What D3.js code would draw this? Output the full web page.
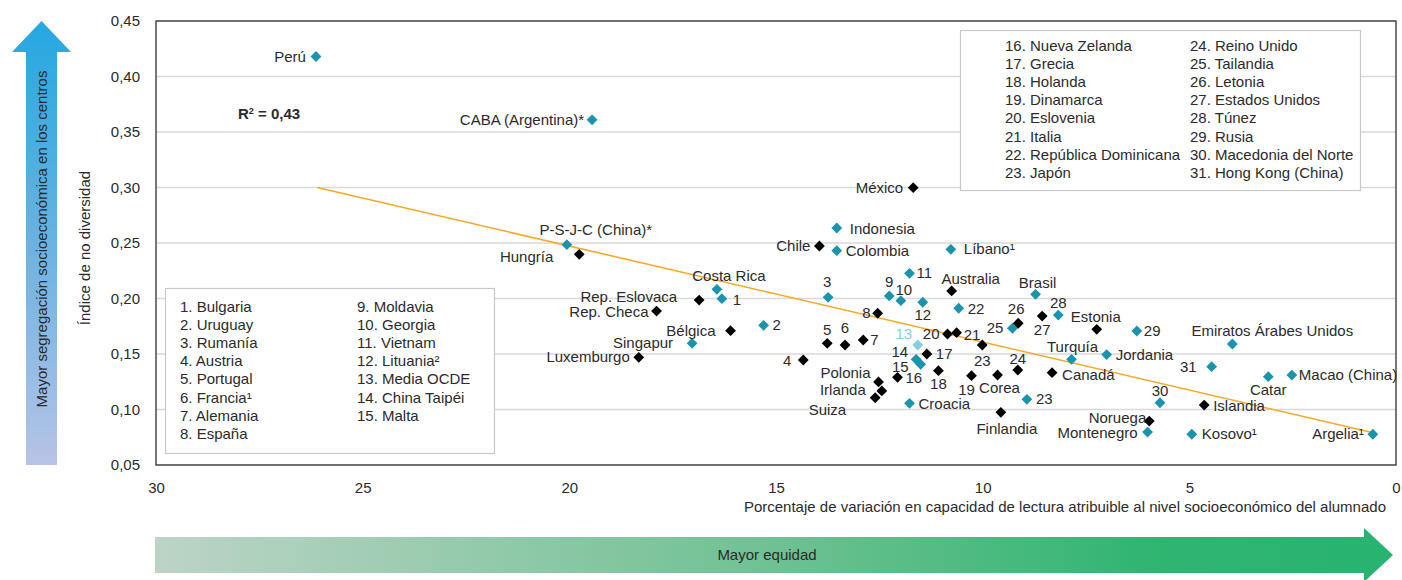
<!DOCTYPE html>
<html><head><meta charset="utf-8">
<script src="https://cdn.jsdelivr.net/npm/d3@7"></script>
<style>
html,body{margin:0;padding:0;background:#fff;}
svg{display:block;font-family:"Liberation Sans",Arial,Helvetica,sans-serif;}
</style></head>
<body>
<svg id="chart" width="1402" height="580"></svg>
<script>
// ---------- DATA ----------
const names = ["Perú","CABA (Argentina)*","México","Indonesia","Chile","Colombia","Líbano¹","P-S-J-C (China)*","Hungría",
"Costa Rica","Rep. Eslovaca","1","Rep. Checa","Bélgica","2","Singapur","Luxemburgo","3","4","5","6","7","8","9","10","11","12",
"Australia","22","13","20","21","17","14","15","16","18","Polonia","Irlanda","Suiza","Croacia","23","19","Corea","24","Canadá",
"23","Finlandia","25","26","27","28","Estonia","29","Brasil","Turquía","Jordania","31","Emiratos Árabes Unidos","Catar",
"Macao (China)","30","Islandia","Noruega","Montenegro","Kosovo¹","Argelia¹"];
const xValues = [26.13,19.45,11.68,13.53,13.95,13.53,10.77,20.06,19.76,
16.43,16.86,16.31,17.89,16.10,15.30,17.03,18.32,13.74,14.34,13.76,13.33,12.89,12.54,12.26,11.98,11.77,11.45,
10.75,10.58,11.57,10.85,10.63,11.35,11.61,11.50,12.06,11.07,12.52,12.44,12.60,11.77,10.01,10.27,9.64,9.15,8.32,
8.93,9.56,9.28,9.14,8.56,8.17,7.24,6.27,8.72,7.85,7.00,4.46,3.96,3.09,
2.52,5.71,4.64,5.97,6.01,4.94,0.56];
const yValues = [0.418,0.361,0.2998,0.2635,0.2473,0.2431,0.2443,0.2485,0.2398,
0.2083,0.1986,0.1998,0.1887,0.171,0.1758,0.1596,0.147,0.2011,0.1446,0.1596,0.1581,0.1626,0.1867,0.2023,0.198,0.2227,0.1966,
0.2068,0.1912,0.1581,0.168,0.1692,0.150,0.1452,0.1407,0.129,0.135,0.1248,0.1167,0.1106,0.1056,0.1581,0.1305,0.1311,0.1356,0.1332,
0.1092,0.0975,0.1732,0.1777,0.1842,0.1851,0.1722,0.1707,0.2038,0.1452,0.1495,0.1386,0.159,0.1296,
0.131,0.1061,0.104,0.0896,0.0797,0.0777,0.0777];
// p = país asociado, o = OCDE, m = media OCDE
const groups = ["p","p","o","p","o","p","p","p","o",
"p","o","p","o","o","p","p","o","p","o","o","o","o","o","p","p","p","p",
"o","p","m","o","o","o","p","p","o","o","o","o","o","p","o","o","o","o","o",
"p","o","p","o","o","p","o","p","p","p","p","p","p","p",
"p","p","o","o","p","p","p"];

const trendX = [26.1, 0.6];
const trendY = [0.300, 0.0795];
const rSquared = "0,43";

const xTicks = [30,25,20,15,10,5,0];
const yTicks = [0.05,0.10,0.15,0.20,0.25,0.30,0.35,0.40,0.45];

const legendLeftA = ["1. Bulgaria","2. Uruguay","3. Rumanía","4. Austria","5. Portugal","6. Francia¹","7. Alemania","8. España"];
const legendLeftB = ["9. Moldavia","10. Georgia","11. Vietnam","12. Lituania²","13. Media OCDE","14. China Taipéi","15. Malta"];
const legendRightA = ["16. Nueva Zelanda","17. Grecia","18. Holanda","19. Dinamarca","20. Eslovenia","21. Italia","22. República Dominicana","23. Japón"];
const legendRightB = ["24. Reino Unido","25. Tailandia","26. Letonia","27. Estados Unidos","28. Túnez","29. Rusia","30. Macedonia del Norte","31. Hong Kong (China)"];

const xTitle = "Porcentaje de variación en capacidad de lectura atribuible al nivel socioeconómico del alumnado";
const yTitle = "Índice de no diversidad";
const upArrowText = "Mayor segregación socioeconómica en los centros";
const rightArrowText = "Mayor equidad";

// ---------- LAYOUT (label placement: anchor, dx, dy in px) ----------
const labelPlacement = [
["end",-10,5],["end",-8,5],["end",-10,5],["start",13,6],["end",-9,5],["start",9,5],["start",13,5],["middle",29,-10],["end",-26,8],
["middle",12,-8],["end",-22,2],["start",11,6],["end",-8,6],["end",-15,5],["start",9,5],["end",-19,5],["end",-9,5],["middle",-1,-10],["end",-12,6],["middle",0,-8],["middle",0,-12],["start",7,5],["end",-7,5],["middle",0,-9],["middle",3,-6],["start",7,5],["middle",0,18],
["middle",19,-7],["start",9,6],["middle",-14,-6],["end",-8,5],["start",7,7],["start",9,5],["end",-8,-2],["end",-12,8],["start",8,6],["middle",0,18],["end",-8,-4],["end",-16,4],["end",-29,17],["start",9,6],["middle",0,21],["middle",-5,19],["middle",2,18],["middle",0,-6],["start",10,7],
["start",9,5],["middle",6,22],["end",-9,5],["middle",-2,-9],["middle",0,19],["middle",0,-7],["middle",-1,-7],["start",7,5],["middle",2,-6],["middle",1,-7],["start",9,5],["end",-15,5],["middle",40,-8],["middle",0,18],
["start",7,5],["middle",0,-7],["start",9,6],["end",-3,2],["end",-10,6],["start",10,5],["end",-9,5]
];

const colors = {o:"#000000", p:"#1a93ad", m:"#84d0db"};
const textColor = "#2b2b2b";
const FONT = 15;

// ---------- DRAW ----------
const svg = d3.select("#chart");
const defs = svg.append("defs");

const x = d3.scaleLinear().domain([30,0]).range([156,1396]);
const y = d3.scaleLinear().domain([0.05,0.45]).range([465,21]);

// gradients
const gUp = defs.append("linearGradient").attr("id","gUp").attr("x1",0).attr("y1",0).attr("x2",0).attr("y2",1);
gUp.append("stop").attr("offset","0%").attr("stop-color","#24a8e0");
gUp.append("stop").attr("offset","45%").attr("stop-color","#62b1e2");
gUp.append("stop").attr("offset","100%").attr("stop-color","#b7c3e6");
const gR = defs.append("linearGradient").attr("id","gR").attr("x1",0).attr("y1",0).attr("x2",1).attr("y2",0);
gR.append("stop").attr("offset","0%").attr("stop-color","#bcd4c6");
gR.append("stop").attr("offset","50%").attr("stop-color","#6fc193");
gR.append("stop").attr("offset","80%").attr("stop-color","#31b571");
gR.append("stop").attr("offset","100%").attr("stop-color","#27b370");

// Up arrow
svg.append("path")
  .attr("d","M26,465 L26,52 L12,52 L41.5,21 L71,52 L57,52 L57,465 Z")
  .attr("fill","url(#gUp)");
svg.append("text")
  .attr("transform","translate(47,239) rotate(-90)")
  .attr("text-anchor","middle").attr("font-size",FONT).attr("fill",textColor)
  .text(upArrowText);

// Right arrow
svg.append("path")
  .attr("d","M155,537 L1364,537 L1364,528 L1393,555 L1364,582 L1364,573 L155,573 Z")
  .attr("fill","url(#gR)");
svg.append("text")
  .attr("x",767).attr("y",560).attr("text-anchor","middle")
  .attr("font-size",FONT).attr("fill",textColor).text(rightArrowText);

// gridlines
svg.append("g").selectAll("line").data(yTicks).join("line")
  .attr("x1",x(30)).attr("x2",x(0)).attr("y1",d=>y(d)).attr("y2",d=>y(d))
  .attr("stroke","#d9d9d9").attr("stroke-width",1.5);

// axes
const fmt = d => d3.format(".2f")(d).replace(".",",");
const yAxis = svg.append("g").attr("transform",`translate(${x(30)},0)`)
  .call(d3.axisLeft(y).tickValues(yTicks).tickSize(0).tickPadding(16).tickFormat(fmt));
const xAxis = svg.append("g").attr("transform",`translate(0,${y(0.05)})`)
  .call(d3.axisBottom(x).tickValues(xTicks).tickSize(0).tickPadding(17).tickFormat(d3.format("d")));
[yAxis,xAxis].forEach(a=>{
  a.select(".domain").remove();
  a.selectAll("text").attr("font-size",FONT).attr("fill",textColor)
   .attr("font-family","'Liberation Sans',Arial,sans-serif");
});

// plot frame
svg.append("rect").attr("x",x(30)).attr("y",y(0.45))
  .attr("width",x(0)-x(30)).attr("height",y(0.05)-y(0.45))
  .attr("fill","none").attr("stroke","#4a4a4a").attr("stroke-width",1.5);

// titles
svg.append("text").attr("x",1386).attr("y",512).attr("text-anchor","end")
  .attr("font-size",FONT).attr("fill",textColor).text(xTitle);
svg.append("text").attr("transform","translate(90,248) rotate(-90)")
  .attr("text-anchor","middle").attr("font-size",FONT).attr("fill",textColor).text(yTitle);

// trend line
svg.append("line")
  .attr("x1",x(trendX[0])).attr("y1",y(trendY[0]))
  .attr("x2",x(trendX[1])).attr("y2",y(trendY[1]))
  .attr("stroke","#f7a928").attr("stroke-width",1.6);

// R2
const r2 = svg.append("text").attr("x",238).attr("y",119).attr("font-size",FONT)
  .attr("font-weight","bold").attr("fill",textColor);
r2.append("tspan").text("R");
r2.append("tspan").attr("font-size",9).attr("dy",-5).text("2");
r2.append("tspan").attr("dy",5).text(" = " + rSquared);

// legends
function legendBox(x0,y0,w,h,colA,colB,xa,xb,firstY){
  svg.append("rect").attr("x",x0).attr("y",y0).attr("width",w).attr("height",h)
    .attr("fill","#fff").attr("stroke","#c8c8c8").attr("stroke-width",1.2);
  const g = svg.append("g").attr("font-size",FONT).attr("fill",textColor);
  g.selectAll("text.a").data(colA).join("text").attr("class","a")
    .attr("x",xa).attr("y",(d,i)=>firstY+i*18.1).text(d=>d);
  g.selectAll("text.b").data(colB).join("text").attr("class","b")
    .attr("x",xb).attr("y",(d,i)=>firstY+i*18.1).text(d=>d);
}
legendBox(165.5,288.5,329,165,legendLeftA,legendLeftB,180,357,312);
legendBox(960.5,30.5,400,160,legendRightA,legendRightB,1005,1190,51);

// points
const pts = names.map((n,i)=>({name:n,x:xValues[i],y:yValues[i],g:groups[i],pl:labelPlacement[i]}));
const diamond = "M0,-5.4L5.4,0L0,5.4L-5.4,0Z";
svg.append("g").selectAll("path").data(pts).join("path")
  .attr("transform",d=>`translate(${x(d.x)},${y(d.y)})`)
  .attr("d",diamond).attr("fill",d=>colors[d.g]);

svg.append("g").attr("font-size",FONT).selectAll("text").data(pts).join("text")
  .attr("x",d=>x(d.x)+d.pl[1]).attr("y",d=>y(d.y)+d.pl[2])
  .attr("text-anchor",d=>d.pl[0])
  .attr("fill",d=>d.g==="m"?colors.m:textColor)
  .text(d=>d.name);
</script>
</body></html>
